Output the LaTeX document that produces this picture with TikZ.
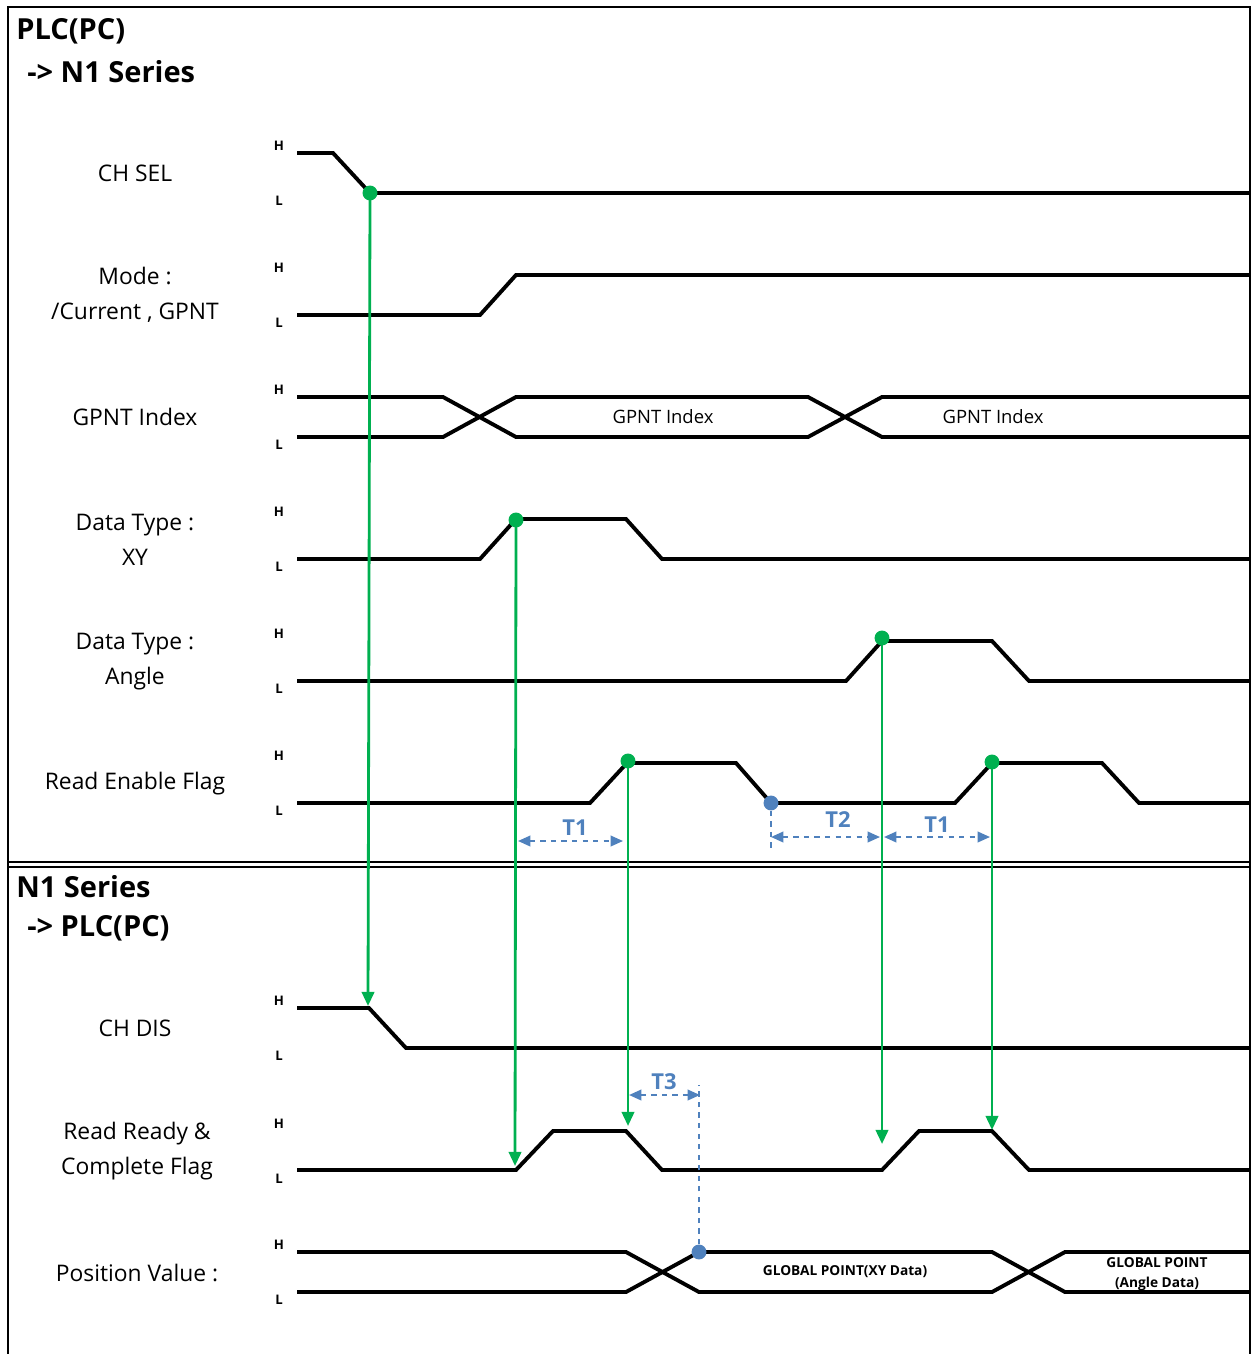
\documentclass[tikz,border=0pt]{standalone}
\usepackage{fontspec}
\setmainfont{Open Sans}
\usetikzlibrary{arrows.meta,positioning}
\definecolor{sigGreen}{HTML}{00B050}
\definecolor{dimBlue}{HTML}{4F81BD}

\begin{document}
\begin{tikzpicture}[x=0.02cm, y=-0.02cm,
    sig/.style={line width=2.2pt},
    hl/.style={font=\bfseries\fontsize{7.5}{9}\selectfont, inner sep=0pt},
    signame/.style={font=\fontsize{13}{20}\selectfont, align=center, inner sep=0pt},
    title/.style={font=\bfseries\fontsize{16.5}{18}\selectfont, anchor=west, inner sep=0pt},
    buslbl/.style={font=\fontsize{10.5}{11}\selectfont, inner sep=0pt},
    gplbl/.style={font=\bfseries\fontsize{7.8}{11}\selectfont, align=center, inner sep=0pt},
    gdot/.style={circle, fill=sigGreen, inner sep=0pt, minimum size=8.5pt},
    bdot/.style={circle, fill=dimBlue, inner sep=0pt, minimum size=8.5pt},
    garrow/.style={draw=sigGreen, line width=1.6pt, -{Triangle[length=8pt,width=7pt]}},
    dim/.style={draw=dimBlue, line width=1.1pt, dashed, {Triangle[length=7pt,width=6pt]}-{Triangle[length=7pt,width=6pt]}},
    dimline/.style={draw=dimBlue, line width=1.1pt, dashed},
    dimlbl/.style={text=dimBlue, font=\bfseries\fontsize{12.5}{13}\selectfont, inner sep=0pt}]
    \useasboundingbox (0,0) rectangle (1252,1354);
    % frame and separator
    \draw[line width=1.5pt] (8,1354) -- (8,7) -- (1250,7) -- (1250,1354);
    \draw[line width=1.3pt] (8,862) -- (1250,862) (8,867) -- (1250,867);
    \node[title] (inTitle) at (16,31) {PLC(PC)};
    \node[title] (inTitleB) at (27,72) {-> N1 Series};
    \node[title] (outTitle) at (16,887) {N1 Series};
    \node[title] (outTitleB) at (27,928) {-> PLC(PC)};
    % signal names
    \node[signame] (chsel) at (135,173) {CH SEL};
    \node[signame] (mode) at (135,295) {Mode :\\/Current , GPNT};
    \node[signame] (gpnt) at (135,417) {GPNT Index};
    \node[signame] (dtxy) at (135,540) {Data Type :\\XY};
    \node[signame] (dtang) at (135,662) {Data Type :\\Angle};
    \node[signame] (renable) at (135,784) {Read Enable Flag};
    \node[signame] (chdis) at (135,1028) {CH DIS};
    \node[signame] (rready) at (137,1151) {Read Ready \&\\Complete Flag};
    \node[signame] (posval) at (137,1273) {Position Value :};
    \foreach \y in {153,275,397,519,641,763,1008,1131,1252} {
        \node[hl] at (279,\y-7) {H};
        \node[hl] at (279,\y+48) {L};
    }
    % PLC -> N1 signals
    \draw[sig] (297,153) -- (333,153) -- (370,193) -- (1250,193);
    \draw[sig] (297,315) -- (480,315) -- (516,275) -- (1250,275);
    \draw[sig] (297,397) -- (443,397) -- (516,437) -- (808,437) -- (882,397) -- (1250,397);
    \draw[sig] (297,437) -- (443,437) -- (516,397) -- (808,397) -- (882,437) -- (1250,437);
    \node[buslbl] (gpntA) at (663,417) {GPNT Index};
    \node[buslbl] (gpntB) at (993,417) {GPNT Index};
    \draw[sig] (297,559) -- (480,559) -- (516,519) -- (626,519) -- (662,559) -- (1250,559);
    \draw[sig] (297,681) -- (846,681) -- (882,641) -- (992,641) -- (1029,681) -- (1250,681);
    \draw[sig] (297,803) -- (590,803) -- (627,763) -- (736,763) -- (771,803) -- (955,803)
        -- (992,763) -- (1102,763) -- (1139,803) -- (1250,803);
    % N1 -> PLC signals
    \draw[sig] (297,1008) -- (369,1008) -- (406,1048) -- (1250,1048);
    \draw[sig] (297,1170) -- (516,1170) -- (553,1131) -- (626,1131) -- (662,1170) -- (882,1170)
        -- (919,1131) -- (992,1131) -- (1029,1170) -- (1250,1170);
    \draw[sig] (297,1252) -- (626,1252) -- (699,1292) -- (992,1292) -- (1065,1252) -- (1250,1252);
    \draw[sig] (297,1292) -- (626,1292) -- (699,1252) -- (992,1252) -- (1065,1292) -- (1250,1292);
    \node[gplbl] (gpXY) at (845,1272) {GLOBAL POINT(XY Data)};
    \node[gplbl] (gpAng) at (1157,1274) {GLOBAL POINT\\(Angle Data)};
    % trigger points
    \node[gdot] (selDot) at (370,193) {};
    \node[gdot] (xyDot) at (516,520) {};
    \node[gdot] (enDotA) at (628,761) {};
    \node[gdot] (angDot) at (882,638) {};
    \node[gdot] (enDotB) at (992,762) {};
    \node[bdot] (enFall) at (771,803) {};
    \node[bdot] (posDot) at (699,1252) {};
    \coordinate (disHit) at (368,1006);
    \coordinate (rdyHitA) at (515,1166);
    \coordinate (rdyHitB) at (628,1126);
    \coordinate (rdyHitC) at (882,1144);
    \coordinate (rdyHitD) at (992,1130);
    \draw[garrow] (selDot.center) -- (disHit);
    \draw[garrow] (xyDot.center) -- (rdyHitA);
    \draw[garrow] (enDotA.center) -- (rdyHitB);
    \draw[garrow] (angDot.center) -- (rdyHitC);
    \draw[garrow] (enDotB.center) -- (rdyHitD);
    % timings
    \coordinate (fallEnd) at (771,852);
    \coordinate (t3Top) at (699,1085);
    \draw[dimline] (enFall) -- (fallEnd);
    \draw[dimline] (posDot) -- (t3Top);
    \draw[dim] (518,841) -- (623,841);
    \draw[dim] (771,837) -- (880,837);
    \draw[dim] (884,837) -- (990,837);
    \draw[dim] (629,1095) -- (700,1095);
    \node[dimlbl] (t1a) at (575,828) {T1};
    \node[dimlbl] (t2) at (838,820) {T2};
    \node[dimlbl] (t1b) at (937,825) {T1};
    \node[dimlbl] (t3) at (664,1082) {T3};
\end{tikzpicture}
\end{document}
